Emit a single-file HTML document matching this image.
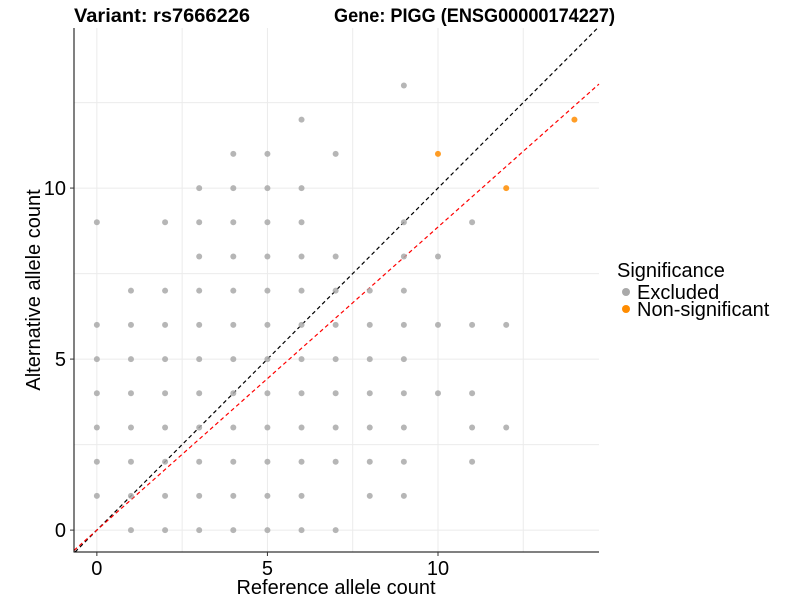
<!DOCTYPE html>
<html><head><meta charset="utf-8"><style>body{margin:0;background:#fff}svg{display:block;font-family:"Liberation Sans",Arial,sans-serif}</style></head>
<body>
<svg id="chart" width="800" height="600">
<text x="74" y="22" font-size="19" font-weight="bold" textLength="176" lengthAdjust="spacingAndGlyphs">Variant: rs7666226</text>
<text x="334" y="22" font-size="19" font-weight="bold" textLength="281" lengthAdjust="spacingAndGlyphs">Gene: PIGG (ENSG00000174227)</text>
<g id="grid"></g><g id="lines"></g><g id="pts"></g><g id="axes"></g>
<text x="336" y="594" font-size="20" text-anchor="middle">Reference allele count</text>
<text transform="translate(40,290) rotate(-90)" font-size="20" text-anchor="middle">Alternative allele count</text>
<g>
<text x="617" y="277" font-size="20">Significance</text>
<circle cx="626" cy="292" r="4" fill="#a9a9a9"/>
<text x="637" y="299" font-size="20">Excluded</text>
<circle cx="626" cy="309" r="4" fill="#ff8c00"/>
<text x="637" y="316" font-size="20">Non-significant</text>
</g>
</svg>
<script>
const excludedRows = [[13,[9]],[12,[6]],[11,[4,5,7]],[10,[3,4,5,6]],[9,[0,2,3,4,5,6,9,11]],[8,[3,4,5,6,7,9,10]],[7,[1,2,3,4,5,6,7,8,9]],[6,[0,1,2,3,4,5,6,7,8,9,10,11,12]],[5,[0,1,2,3,4,5,6,7,8,9]],[4,[0,1,2,3,4,5,6,7,8,9,10,11]],[3,[0,1,2,3,4,5,6,7,8,9,11,12]],[2,[0,1,2,3,4,5,6,7,8,9,11]],[1,[0,1,2,3,4,5,6,8,9]],[0,[1,2,3,4,5,6,7]]];
const nonsigX = [10,12,14];
const nonsigY = [11,10,12];
const xTicks = [0,5,10];
const yTicks = [0,5,10];
const redSlope = 0.886;
const X0=74,X1=599,Y0=552,Y1=28,xmin=-0.67,xmax=14.72,ymin=-0.64,ymax=14.68;
const sx=v=>X0+(v-xmin)/(xmax-xmin)*(X1-X0);
const sy=v=>Y0-(v-ymin)/(ymax-ymin)*(Y0-Y1);
const NS='http://www.w3.org/2000/svg';
function mk(p,t,a){const e=document.createElementNS(NS,t);for(const k in a)e.setAttribute(k,a[k]);document.getElementById(p).appendChild(e);return e;}
[0,2.5,5,7.5,10,12.5].forEach(v=>{
 const a=mk('grid','line',{x1:sx(v),x2:sx(v),y1:Y1,y2:Y0,stroke:'#ebebeb','stroke-width':1});
 
 
 const b=mk('grid','line',{x1:X0,x2:X1,y1:sy(v),y2:sy(v),stroke:'#ebebeb','stroke-width':1});
 
 
});
excludedRows.forEach(([y,xs])=>xs.forEach(x=>{
 const c=mk('pts','circle',{cx:sx(x),cy:sy(y),r:3,fill:'#a9a9a9','fill-opacity':0.85});
 
 
}));
nonsigX.forEach((x,i)=>{
 const c=mk('pts','circle',{cx:sx(x),cy:sy(nonsigY[i]),r:3,fill:'#ff8c00','fill-opacity':0.85});
 
 
});
function clipLine(slope,color,name){
 let xa=xmin,ya=slope*xa; if(ya<ymin){xa=ymin/slope;ya=ymin;}
 let xb=xmax,yb=slope*xb; if(yb>ymax){xb=ymax/slope;yb=ymax;}
 const l=mk('lines','line',{x1:sx(xa),y1:sy(ya),x2:sx(xb),y2:sy(yb),stroke:color,'stroke-width':1.2,'stroke-dasharray':'4,3'});
 
 
}
clipLine(1,'#000','identity-line');
clipLine(redSlope,'#ff0000','fit-line');
const ax=mk('axes','path',{d:`M${X0},${Y1}V${Y0}H${X1}`,fill:'none',stroke:'#000','stroke-width':1});


xTicks.forEach(v=>{
 mk('axes','line',{x1:sx(v),x2:sx(v),y1:Y0,y2:Y0+4,stroke:'#333'});
 const t=mk('axes','text',{x:sx(v),y:Y0+23,'font-size':20,'text-anchor':'middle'});t.textContent=v;
 
 
});
yTicks.forEach(v=>{
 mk('axes','line',{x1:X0-4,x2:X0,y1:sy(v),y2:sy(v),stroke:'#333'});
 const t=mk('axes','text',{x:X0-8,y:sy(v)+7,'font-size':20,'text-anchor':'end'});t.textContent=v;
 
 
});
</script>
</body></html>
